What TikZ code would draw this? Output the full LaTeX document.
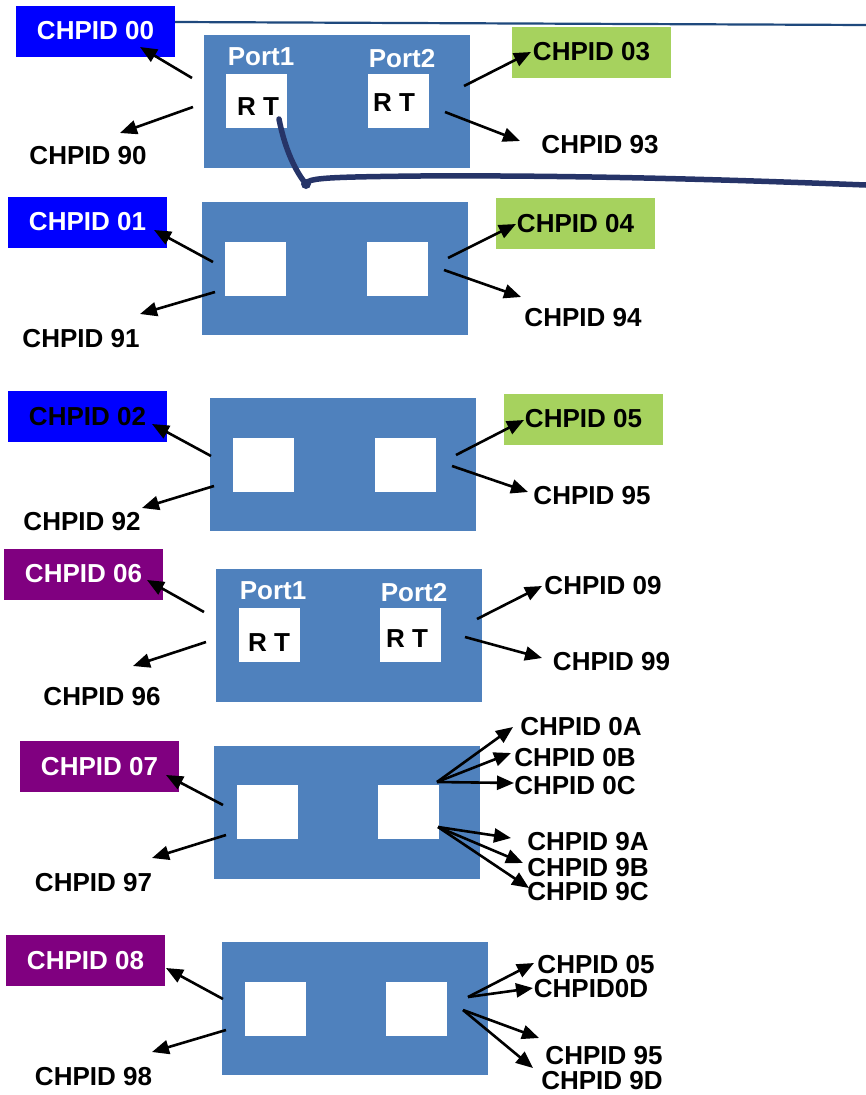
\documentclass[tikz,border=0pt]{standalone}
\usepackage{fontspec}
\setmainfont{Liberation Sans}
\usepackage{xcolor}
\usetikzlibrary{arrows.meta}

\definecolor{cardblue}{RGB}{79,129,189}
\definecolor{chblue}{RGB}{0,0,255}
\definecolor{chgreen}{RGB}{166,210,94}
\definecolor{chpurple}{RGB}{128,0,128}
\definecolor{linkblue}{RGB}{31,73,125}
\definecolor{cablenavy}{RGB}{38,52,104}

\begin{document}
\begin{tikzpicture}[
  x=1pt, y=-1pt,
  >={Triangle[length=17pt, width=14pt]},
  font=\fontsize{26}{30}\selectfont\bfseries,
  card/.style={fill=cardblue, minimum width=266pt, minimum height=133pt, inner sep=0pt},
  port/.style={fill=white, minimum width=61pt, minimum height=54pt, inner sep=0pt},
  portlbl/.style={text=white, inner sep=0pt},
  rt/.style={inner sep=0pt},
  chbox/.style={minimum width=159pt, minimum height=51pt, inner sep=0pt},
  blu/.style={chbox, fill=chblue, text=white},
  grn/.style={chbox, fill=chgreen},
  pur/.style={chbox, fill=chpurple, text=white},
  lbl/.style={inner sep=0pt},
  arr/.style={->, line width=2.6pt},
  link/.style={draw=linkblue, line width=2.2pt},
  cable/.style={draw=cablenavy, line width=5.5pt, line cap=round}
]
\useasboundingbox (0,0) rectangle (866,1095);

% ---- card 1
\node[card] (b1) at (336.5,101) {};
\node[port] (p11) at ([xshift=-80pt]b1.center) {};
\node[port] (p12) at ([xshift=62pt]b1.center) {};
\node[portlbl] (n11) at (261,57) {Port1};
\node[portlbl] (n12) at (402,59) {Port2};
\node[rt] (rt11) at (258,107) {R T};
\node[rt] (rt12) at (394,103) {R T};
\node[blu] (c00) at (95.5,31) {CHPID 00};
\node[grn] (c03) at (591.5,52) {CHPID 03};
\node[lbl] (c90) at (88,156) {CHPID 90};
\node[lbl] (c93) at (600,145) {CHPID 93};
\coordinate (s1a) at (192,78);   \coordinate (e1a) at (140,47);
\coordinate (s1b) at (193,107);  \coordinate (e1b) at (120,133);
\coordinate (s1c) at (464,86);   \coordinate (e1c) at (531,52);
\coordinate (s1d) at (445,112);  \coordinate (e1d) at (520,141);
\draw[arr] (s1a) -- (e1a);
\draw[arr] (s1b) -- (e1b);
\draw[arr] (s1c) -- (e1c);
\draw[arr] (s1d) -- (e1d);

% link line and cable
\coordinate (linkR) at (866,25);
\draw[link] ([yshift=9pt]c00.east) -- (linkR);
\coordinate (cableA) at (279,119);
\coordinate (plug) at (306,184);
\coordinate (cableR) at (866,185);
\draw[cable] (cableA) .. controls (285,150) and (296,172) .. (plug);
\fill[cablenavy] (plug) circle (5);
\draw[cable] (plug) .. controls (308,178) and (325,177) .. (420,176)
  .. controls (600,175) and (760,181) .. (cableR);

% ---- card 2
\node[card] (b2) at (335,268.5) {};
\node[port] (p21) at ([xshift=-80pt]b2.center) {};
\node[port] (p22) at ([xshift=62pt]b2.center) {};
\node[blu] (c01) at (87.5,222) {CHPID 01};
\node[grn] (c04) at (575.5,223.5) {CHPID 04};
\node[lbl] (c91) at (81,339) {CHPID 91};
\node[lbl] (c94) at (583,318) {CHPID 94};
\coordinate (s2a) at (213,262);  \coordinate (e2a) at (154,230);
\coordinate (s2b) at (215,292);  \coordinate (e2b) at (140,314);
\coordinate (s2c) at (448,258);  \coordinate (e2c) at (516,224);
\coordinate (s2d) at (444,270);  \coordinate (e2d) at (521,297);
\draw[arr] (s2a) -- (e2a);
\draw[arr] (s2b) -- (e2b);
\draw[arr] (s2c) -- (e2c);
\draw[arr] (s2d) -- (e2d);

% ---- card 3
\node[card] (b3) at (343,464.5) {};
\node[port] (p31) at ([xshift=-80pt]b3.center) {};
\node[port] (p32) at ([xshift=62pt]b3.center) {};
\node[blu, text=black] (c02) at (87.5,416.5) {CHPID 02};
\node[grn] (c05) at (583.5,419) {CHPID 05};
\node[lbl] (c92) at (82,522) {CHPID 92};
\node[lbl] (c95) at (592,496) {CHPID 95};
\coordinate (s3a) at (211,456);  \coordinate (e3a) at (152,424);
\coordinate (s3b) at (214,486);  \coordinate (e3b) at (142,508);
\coordinate (s3c) at (456,455);  \coordinate (e3c) at (524,420);
\coordinate (s3d) at (452,466);  \coordinate (e3d) at (528,492);
\draw[arr] (s3a) -- (e3a);
\draw[arr] (s3b) -- (e3b);
\draw[arr] (s3c) -- (e3c);
\draw[arr] (s3d) -- (e3d);

% ---- card 4
\node[card] (b4) at (349,635) {};
\node[port] (p41) at ([xshift=-80pt]b4.center) {};
\node[port] (p42) at ([xshift=61pt]b4.center) {};
\node[portlbl] (n41) at (273,591) {Port1};
\node[portlbl] (n42) at (414,593) {Port2};
\node[rt] (rt41) at (269,643) {R T};
\node[rt] (rt42) at (407,639) {R T};
\node[pur] (c06) at (83.5,574) {CHPID 06};
\node[lbl] (c96) at (102,697) {CHPID 96};
\node[lbl] (c09) at (603,586) {CHPID 09};
\node[lbl] (c99) at (611.5,662) {CHPID 99};
\coordinate (s4a) at (204,612);  \coordinate (e4a) at (147,580);
\coordinate (s4b) at (206,642);  \coordinate (e4b) at (133,666);
\coordinate (s4c) at (477,619);  \coordinate (e4c) at (542,586);
\coordinate (s4d) at (465,637);  \coordinate (e4d) at (542,658);
\draw[arr] (s4a) -- (e4a);
\draw[arr] (s4b) -- (e4b);
\draw[arr] (s4c) -- (e4c);
\draw[arr] (s4d) -- (e4d);

% ---- card 5
\node[card] (b5) at (347,812) {};
\node[port] (p51) at ([xshift=-80pt]b5.center) {};
\node[port] (p52) at ([xshift=61pt]b5.center) {};
\node[pur] (c07) at (99.5,766.5) {CHPID 07};
\node[lbl] (c97) at (93.5,883) {CHPID 97};
\node[lbl] (c0A) at (581,727) {CHPID 0A};
\node[lbl] (c0B) at (575,758) {CHPID 0B};
\node[lbl] (c0C) at (575,786) {CHPID 0C};
\node[lbl] (c9A) at (588,842) {CHPID 9A};
\node[lbl] (c9B) at (588,868) {CHPID 9B};
\node[lbl] (c9C) at (588,892) {CHPID 9C};
\coordinate (s5a) at (223,805);  \coordinate (e5a) at (166,775);
\coordinate (s5b) at (226,835);  \coordinate (e5b) at (152,858);
\coordinate (s5c) at (437,782);
\coordinate (s5d) at (438,827);
\coordinate (e0A) at (513,727);  \coordinate (e0B) at (511,753);
\coordinate (e0C) at (514,783);  \coordinate (e9A) at (511,838);
\coordinate (e9B) at (523,863);  \coordinate (e9C) at (529,888);
\draw[arr] (s5a) -- (e5a);
\draw[arr] (s5b) -- (e5b);
\draw[arr] (s5c) -- (e0A);
\draw[arr] (s5c) -- (e0B);
\draw[arr] (s5c) -- (e0C);
\draw[arr] (s5d) -- (e9A);
\draw[arr] (s5d) -- (e9B);
\draw[arr] (s5d) -- (e9C);

% ---- card 6
\node[card] (b6) at (355,1008.5) {};
\node[port] (p61) at ([xshift=-80pt]b6.center) {};
\node[port] (p62) at ([xshift=61pt]b6.center) {};
\node[pur] (c08) at (85.5,960.5) {CHPID 08};
\node[lbl] (c98) at (93.5,1077) {CHPID 98};
\node[lbl] (c05b) at (596,965) {CHPID 05};
\node[lbl] (c0D) at (591,989) {CHPID0D};
\node[lbl] (c95b) at (604,1056) {CHPID 95};
\node[lbl] (c9D) at (602,1081) {CHPID 9D};
\coordinate (s6a) at (223,999);  \coordinate (e6a) at (166,968);
\coordinate (s6b) at (226,1030); \coordinate (e6b) at (152,1052);
\coordinate (s6c) at (468,997);
\coordinate (s6d) at (463,1010);
\coordinate (e05) at (534,963);  \coordinate (e0D) at (533,988);
\coordinate (e95) at (539,1038); \coordinate (e9D) at (533,1068);
\draw[arr] (s6a) -- (e6a);
\draw[arr] (s6b) -- (e6b);
\draw[arr] (s6c) -- (e05);
\draw[arr] (s6c) -- (e0D);
\draw[arr] (s6d) -- (e95);
\draw[arr] (s6d) -- (e9D);
\end{tikzpicture}
\end{document}
